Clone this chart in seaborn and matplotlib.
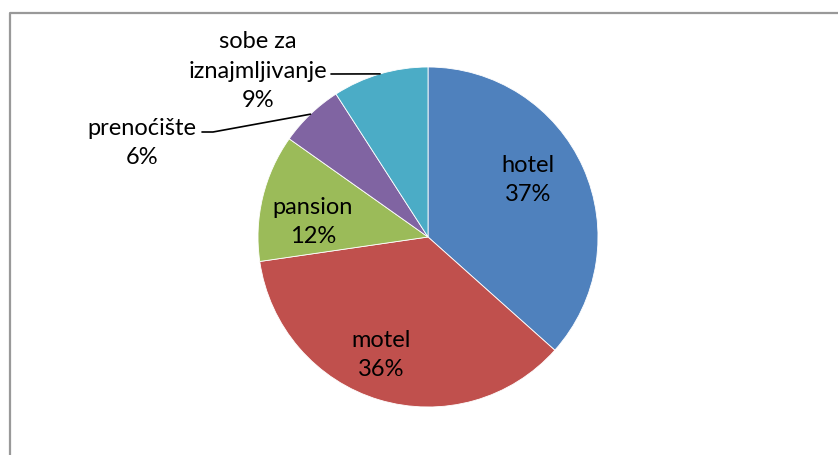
import numpy as np
import matplotlib.pyplot as plt
import seaborn as sns
from matplotlib.lines import Line2D

categories = ['hotel', 'motel', 'pansion', 'prenoćište', 'sobe za\niznajmljivanje']
shares = [36.6, 36.1, 12.1, 6.1, 9.1]
pct_labels = ['37%', '36%', '12%', '6%', '9%']

sns.set_theme(style="white")
plt.rcParams['font.family'] = ['Lato', 'DejaVu Sans']

colors = ['#4F81BD', '#C0504D', '#9BBB59', '#8064A2', '#4BACC6']

W, H = 838, 456
fig = plt.figure(figsize=(W / 100, H / 100), dpi=100)
fig.patch.set_facecolor('white')

# pie: centre (428, 238) px, radius 170 px
cx, cy, r = 428, 238, 170
ax = fig.add_axes([(cx - r) / W, (H - cy - r) / H, 2 * r / W, 2 * r / H])
wedges, _ = ax.pie(shares, colors=colors, startangle=90, counterclock=False,
                   radius=1, wedgeprops=dict(edgecolor='white', linewidth=0.6))
ax.set_xlim(-1, 1)
ax.set_ylim(-1, 1)
ax.axis('off')

def px(x, y):
    return (x - cx) / r, (cy - y) / r

# label block centres (pixels)
label_pos = [(528, 180), (381, 355), (313, 222), (142, 143), (258, 71)]
for i, (name, pct) in enumerate(zip(categories, pct_labels)):
    x, y = px(*label_pos[i])
    ax.text(x, y, name + '\n' + pct, ha='center', va='center', fontsize=17,
            linespacing=1.52, color='black', clip_on=False)

def edge_point(w):
    t = np.deg2rad((w.theta1 + w.theta2) / 2)
    return np.cos(t), np.sin(t)

# leader lines
ex, ey = edge_point(wedges[3])
p0 = px(202, 133)
p1 = px(213, 133)
ax.plot([p0[0], p1[0], ex], [p0[1], p1[1], ey], color='black', lw=1.2, clip_on=False)

ex, ey = edge_point(wedges[4])
p0 = px(331, 75)
ax.plot([p0[0], ex], [p0[1], ey], color='black', lw=1.2, clip_on=False)

# chart frame (cropped on right and bottom)
fx = 9.5 / W
fy = 1 - 13.5 / H
fig.add_artist(Line2D([fx, fx, 1.0], [0.0, fy, fy], transform=fig.transFigure,
                      color='#999999', lw=1.6))

fig.savefig('out.png', dpi=100, facecolor='white')
